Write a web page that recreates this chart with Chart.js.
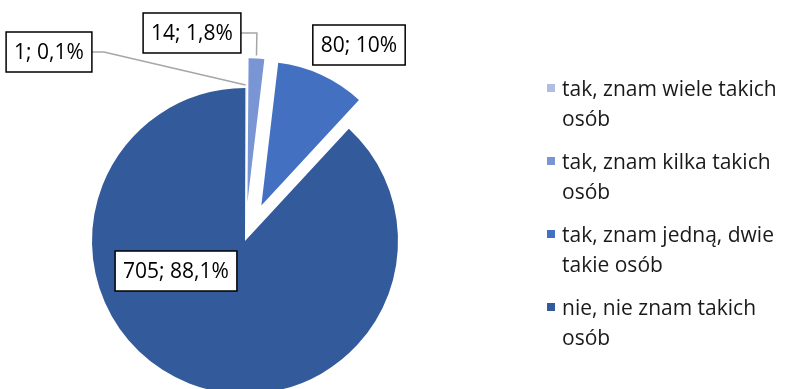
<!DOCTYPE html>
<html>
<head>
<meta charset="utf-8">
<script src="https://cdn.jsdelivr.net/npm/chart.js@4"></script>
<style>
  html, body { margin: 0; padding: 0; background: #fff; overflow: hidden; width: 790px; height: 389px; }
  #wrap { position: relative; width: 790px; height: 389px; overflow: hidden; }
  #pie { position: absolute; left: 0; top: 0; }
  #legend { position: absolute; left: 547px; top: 73px; width: 243px; font-family: "Open Sans", sans-serif; font-size: 21px; color: #1a1a1a; }
  .item { display: flex; align-items: flex-start; margin-bottom: 13px; }
  .box { width: 8px; height: 8px; margin-top: 11px; margin-right: 7px; flex: none; }
  .text { line-height: 30px; width: 228px; }
</style>
</head>
<body>
<div id="wrap">
  <canvas id="pie" width="790" height="480"></canvas>
  <div id="legend"></div>
</div>
<script>
// Answer categories and counts
const categories = [
    "tak, znam wiele takich osób",
    "tak, znam kilka takich osób",
    "tak, znam jedną, dwie takie osób",
    "nie, nie znam takich osób"
];
const counts = [1, 14, 80, 705];
const percentLabels = ["0,1%", "1,8%", "10%", "88,1%"];

// Slice colors, blue shades
const colors = ["#b0bee3", "#7a95d3", "#4470c2", "#335a9a"];

// Pulled out slices: how far they move (px) and how big they stay
const sliceShift = [0, 39, 39, 0];
const sliceScale = [1, 0.94, 0.94, 1];

// Label box positions relative to the pie center, and leader lines
const labelShift = [
    { dx: -196, dy: -189, lead: 12 },
    { dx: -53, dy: -208, lead: 16 },
    { dx: 114, dy: -196, lead: 0 },
    { dx: -69, dy: 30, lead: 0 }
];

// Build the legend from the categories
const legendEl = document.getElementById("legend");
categories.forEach((name, i) => {
    const item = document.createElement("div");
    item.className = "item";
    item.innerHTML = `<span class="box" style="background:${colors[i]}"></span><span class="text">${name}</span>`;
    legendEl.appendChild(item);
});

function pieCenter(chart) {
    const a = chart.chartArea;
    return { x: (a.left + a.right) / 2, y: (a.top + a.bottom) / 2 };
}

// Move the exploded slices out along their middle angle and shrink them a little
const explode = {
    id: "explode",
    beforeDatasetsDraw(chart) {
        const meta = chart.getDatasetMeta(0);
        const base = meta.controller.outerRadius;
        const c = pieCenter(chart);
        meta.data.forEach((arc, i) => {
            const mid = (arc.startAngle + arc.endAngle) / 2;
            arc.x = c.x + Math.cos(mid) * sliceShift[i];
            arc.y = c.y + Math.sin(mid) * sliceShift[i];
            arc.outerRadius = base * sliceScale[i];
        });
    }
};

// Draw the value label boxes after the slices
const labelBoxes = {
    id: "labelBoxes",
    afterDatasetsDraw(chart) {
        const ctx = chart.ctx;
        const arcs = chart.getDatasetMeta(0).data;
        const c = pieCenter(chart);
        ctx.save();
        ctx.font = "21px 'Open Sans', sans-serif";
        ctx.textAlign = "center";
        ctx.textBaseline = "middle";
        arcs.forEach((arc, i) => {
            const text = counts[i] + "; " + percentLabels[i];
            const cx = c.x + labelShift[i].dx;
            const cy = c.y + labelShift[i].dy;
            const w = ctx.measureText(text).width + 16;
            const h = 40;

            // Leader line from the box to the slice edge
            if (labelShift[i].lead > 0) {
                const mid = (arc.startAngle + arc.endAngle) / 2;
                const px = arc.x + Math.cos(mid) * arc.outerRadius;
                const py = arc.y + Math.sin(mid) * arc.outerRadius - 3;
                const sx = cx + w / 2;
                ctx.strokeStyle = "#a6a6a6";
                ctx.lineWidth = 1.5;
                ctx.beginPath();
                ctx.moveTo(sx, cy);
                ctx.lineTo(sx + labelShift[i].lead, cy);
                ctx.lineTo(px, py);
                ctx.stroke();
            }

            ctx.fillStyle = "#ffffff";
            ctx.fillRect(cx - w / 2, cy - h / 2, w, h);
            ctx.strokeStyle = "#000000";
            ctx.lineWidth = 1.5;
            ctx.strokeRect(cx - w / 2, cy - h / 2, w, h);
            ctx.fillStyle = "#000000";
            ctx.fillText(text, cx, cy + 1);
        });
        ctx.restore();
    }
};

const pieChart = new Chart(document.getElementById("pie"), {
    type: "pie",
    data: {
        labels: categories,
        datasets: [{
            data: counts,
            backgroundColor: colors,
            borderWidth: 0,
            hoverOffset: 0
        }]
    },
    options: {
        responsive: false,
        animation: false,
        radius: 153,
        layout: { padding: { left: 1, right: 301, top: 2, bottom: 0 } },
        plugins: {
            legend: { display: false },
            tooltip: { enabled: false }
        }
    },
    plugins: [explode, labelBoxes]
});
</script>
</body>
</html>
